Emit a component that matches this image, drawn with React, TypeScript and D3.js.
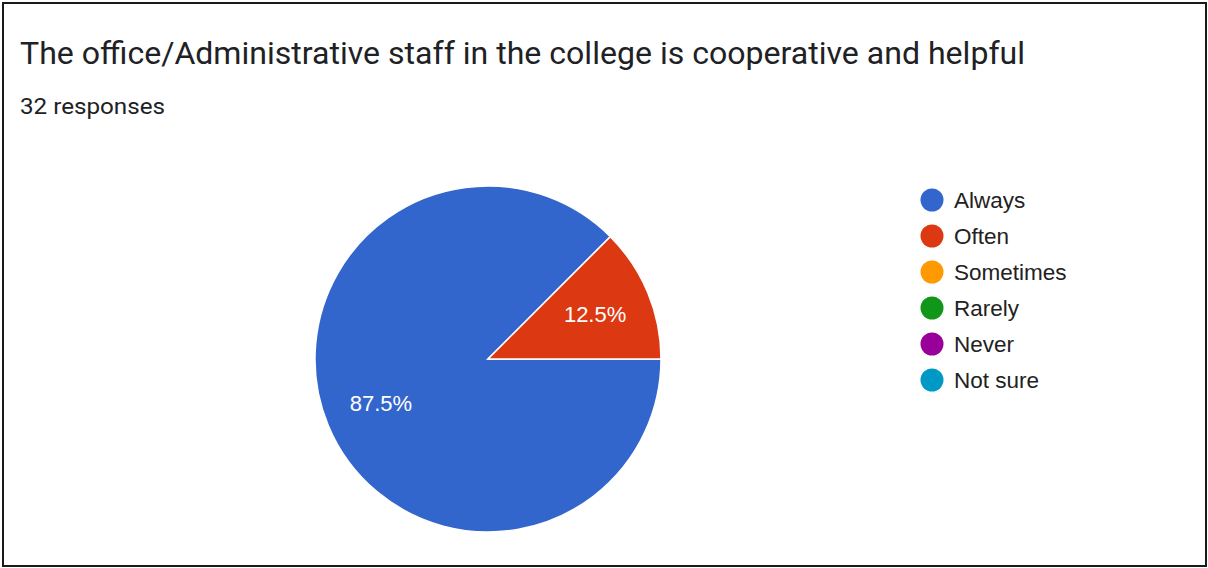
import React from "react";
import * as d3 from "d3";

const categories = ["Always", "Often", "Sometimes", "Rarely", "Never", "Not sure"];
const counts = [28, 4, 0, 0, 0, 0];
const colors = ["#3366CC", "#DC3912", "#FF9900", "#109618", "#990099", "#0099C6"];
const title = "The office/Administrative staff in the college is cooperative and helpful";
const subtitle = "32 responses";

const W = 1208;
const H = 568;

export default function App() {
  const cx = 488;
  const cy = 359;
  const r = 173;
  const total = d3.sum(counts);
  const pie = d3
    .pie<number>()
    .sort(null)
    .startAngle(Math.PI / 2)
    .endAngle(Math.PI / 2 + 2 * Math.PI)
    .value((d) => d);
  const arcs = pie(counts);
  const arc = d3.arc<d3.PieArcDatum<number>>().innerRadius(0).outerRadius(r);
  const labelArc = d3.arc<d3.PieArcDatum<number>>().innerRadius(r * 0.67).outerRadius(r * 0.67);
  const legendY = d3.scaleLinear().domain([0, 1]).range([200, 236]);

  return (
    <div style={{ position: "fixed", left: 0, top: 0, width: W, height: H, background: "#fff" }}>
      <svg width={W} height={H} style={{ display: "block" }}>
        <rect x={0} y={0} width={W} height={H} fill="#fff" />
        <rect x={3} y={3} width={W - 5} height={H - 5} fill="none" stroke="#1a1a1a" strokeWidth={2} />
        <text x={20} y={64} fontFamily="Roboto, sans-serif" fontSize={31.5} fill="#202124" textLength={1005} lengthAdjust="spacingAndGlyphs">
          {title}
        </text>
        <text x={20} y={114} fontFamily="Roboto, sans-serif" fontSize={21.5} fill="#202124" textLength={145} lengthAdjust="spacingAndGlyphs">
          {subtitle}
        </text>
        <g transform={`translate(${cx},${cy})`}>
          {arcs.map((a, i) =>
            a.value > 0 ? (
              <path key={i} d={arc(a) || ""} fill={colors[i]} stroke="#fff" strokeWidth={1.5} />
            ) : null
          )}
          {arcs.map((a, i) => {
            if (a.value <= 0) return null;
            const [lx, ly] = labelArc.centroid(a);
            return (
              <text
                key={"l" + i}
                x={lx}
                y={ly + 7.5}
                textAnchor="middle"
                fontFamily="'Liberation Sans', Arial, sans-serif"
                fontSize={22}
                fill="#fff"
              >
                {((a.value / total) * 100).toFixed(1)}%
              </text>
            );
          })}
        </g>
        <g>
          {categories.map((c, i) => (
            <g key={c}>
              <circle cx={932} cy={legendY(i)} r={11.5} fill={colors[i]} />
              <text
                x={954}
                y={legendY(i) + 7.5}
                fontFamily="'Liberation Sans', Arial, sans-serif"
                fontSize={22.5}
                fill="#222"
              >
                {c}
              </text>
            </g>
          ))}
        </g>
      </svg>
    </div>
  );
}
